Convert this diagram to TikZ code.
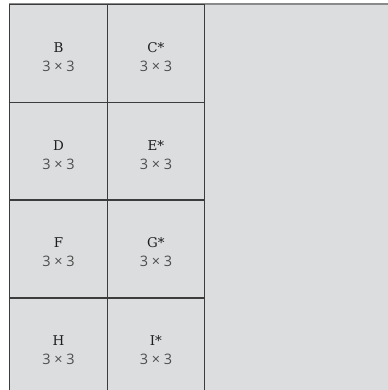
\documentclass[tikz,border=0pt]{standalone}
\usepackage{fontspec}
\newfontfamily\lblfont{DejaVu Serif}
\newfontfamily\dimfont{Open Sans}
\definecolor{bgfill}{HTML}{DCDDDF}
\definecolor{gridc}{HTML}{3C3C3C}
\definecolor{topc}{HTML}{8A8A8A}
\definecolor{lblc}{HTML}{1E1E1E}
\definecolor{dimc}{HTML}{4E4E4E}
\begin{document}
\begin{tikzpicture}[x=1bp,y=-1bp,
  cellbox/.style={draw=gridc, line width=1.4bp, minimum width=97.5bp, minimum height=97.7bp, inner sep=0pt, anchor=north west},
  lbltext/.style={inner sep=0pt, anchor=base, yshift=1bp, text=lblc, font=\lblfont\fontsize{13.5}{16}\selectfont},
  dimtext/.style={inner sep=0pt, anchor=base, yshift=-18bp, text=dimc, font=\dimfont\fontsize{14.5}{17}\selectfont},
  ]
\clip (0,0) rectangle (388,390);
\fill[white] (0,0) rectangle (388,390);
\fill[bgfill] (9,4) rectangle (388,400);
\draw[topc, line width=1.4bp] (9,4) -- (388,4);
\foreach \r/\a/\b in {0/B/C,1/D/E,2/F/G,3/H/I}{
  \node[cellbox] (L\r) at (9,{4+97.7*\r}) {};
  \node[cellbox] (R\r) at (106.5,{4+97.7*\r}) {};
  \node[lbltext] (aL\r) at (L\r.center) {\a};
  \node[dimtext] (dL\r) at (L\r.center) {3 × 3};
  \node[lbltext] (aR\r) at (R\r.center) {\b*};
  \node[dimtext] (dR\r) at (R\r.center) {3 × 3};
}
\end{tikzpicture}
\end{document}
